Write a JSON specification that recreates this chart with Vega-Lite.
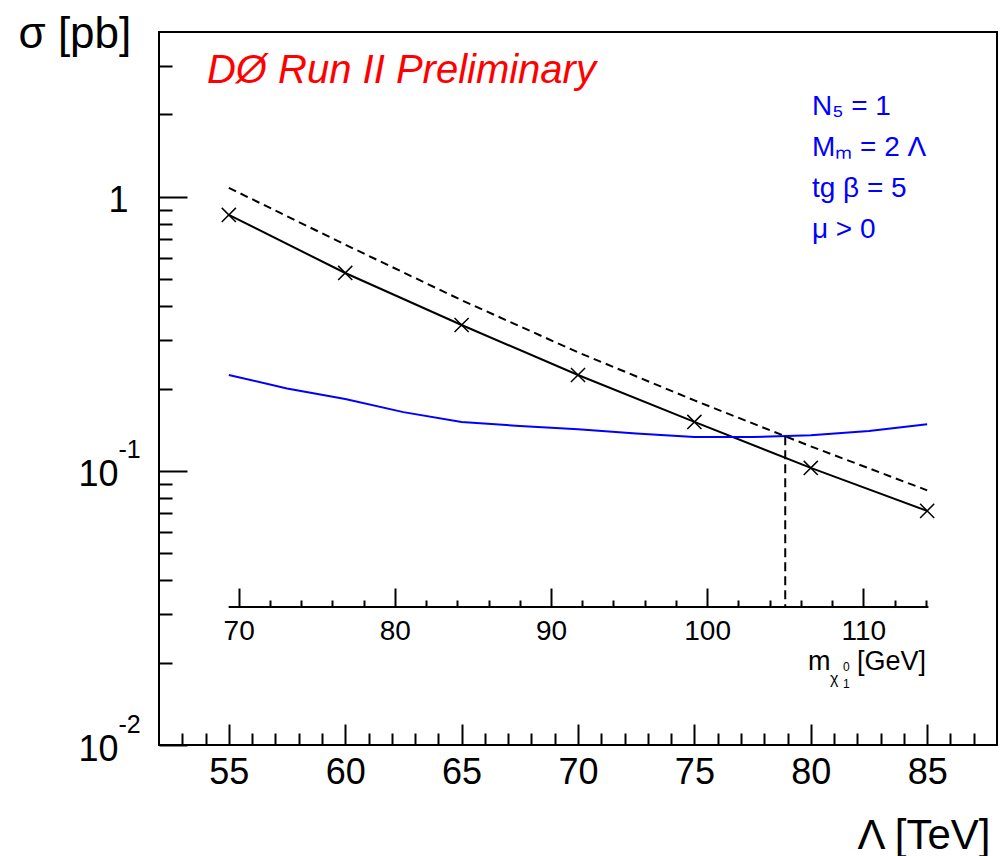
{
  "$schema": "https://vega.github.io/schema/vega-lite/v6.json",
  "width": 838,
  "height": 713,
  "autosize": "none",
  "padding": {"left": 159, "top": 32, "right": 9, "bottom": 111},
  "background": "white",
  "config": {
    "view": {"stroke": "black", "strokeWidth": 2},
    "axis": {
      "grid": false,
      "domain": false,
      "tickColor": "black",
      "tickWidth": 2,
      "labelColor": "black",
      "titleColor": "black",
      "labelFont": "Liberation Sans, Arial, sans-serif",
      "titleFont": "Liberation Sans, Arial, sans-serif",
      "titleFontWeight": "normal",
      "labelOverlap": false,
      "labelFlush": false,
      "labelBound": false
    },
    "text": {"font": "Liberation Sans, Arial, sans-serif"}
  },
  "datasets": {
    "curves": [
      {"curve": "theory", "Lambda_TeV": 55, "sigma_pb": 0.86},
      {"curve": "theory", "Lambda_TeV": 60, "sigma_pb": 0.528},
      {"curve": "theory", "Lambda_TeV": 65, "sigma_pb": 0.341},
      {"curve": "theory", "Lambda_TeV": 70, "sigma_pb": 0.224},
      {"curve": "theory", "Lambda_TeV": 75, "sigma_pb": 0.151},
      {"curve": "theory", "Lambda_TeV": 80, "sigma_pb": 0.1026},
      {"curve": "theory", "Lambda_TeV": 85, "sigma_pb": 0.0715},
      {"curve": "theory_upper", "Lambda_TeV": 55, "sigma_pb": 1.08},
      {"curve": "theory_upper", "Lambda_TeV": 60, "sigma_pb": 0.67},
      {"curve": "theory_upper", "Lambda_TeV": 65, "sigma_pb": 0.42},
      {"curve": "theory_upper", "Lambda_TeV": 70, "sigma_pb": 0.271},
      {"curve": "theory_upper", "Lambda_TeV": 75, "sigma_pb": 0.181},
      {"curve": "theory_upper", "Lambda_TeV": 80, "sigma_pb": 0.123},
      {"curve": "theory_upper", "Lambda_TeV": 85, "sigma_pb": 0.085},
      {"curve": "limit", "Lambda_TeV": 55, "sigma_pb": 0.224},
      {"curve": "limit", "Lambda_TeV": 57.5, "sigma_pb": 0.2},
      {"curve": "limit", "Lambda_TeV": 60, "sigma_pb": 0.183},
      {"curve": "limit", "Lambda_TeV": 62.5, "sigma_pb": 0.164},
      {"curve": "limit", "Lambda_TeV": 65, "sigma_pb": 0.151},
      {"curve": "limit", "Lambda_TeV": 67.5, "sigma_pb": 0.146},
      {"curve": "limit", "Lambda_TeV": 70, "sigma_pb": 0.142},
      {"curve": "limit", "Lambda_TeV": 72.5, "sigma_pb": 0.137},
      {"curve": "limit", "Lambda_TeV": 75, "sigma_pb": 0.133},
      {"curve": "limit", "Lambda_TeV": 77.5, "sigma_pb": 0.133},
      {"curve": "limit", "Lambda_TeV": 80, "sigma_pb": 0.135},
      {"curve": "limit", "Lambda_TeV": 82.5, "sigma_pb": 0.14},
      {"curve": "limit", "Lambda_TeV": 85, "sigma_pb": 0.148}
    ],
    "neutralino_limit": [
      {"axis_from_GeV": 69.36, "axis_to_GeV": 114.17, "limit_GeV": 105, "limit_sigma_pb": 0.134, "axis_sigma_pb": 0.0319}
    ]
  },
  "layer": [
    {
      "data": {"name": "curves"},
      "transform": [{"filter": "datum.curve === 'theory'"}],
      "mark": {"type": "line", "color": "black", "strokeWidth": 2},
      "encoding": {
        "x": {
          "field": "Lambda_TeV",
          "type": "quantitative",
          "scale": {"domain": [52, 88], "nice": false, "zero": false},
          "axis": {
            "orient": "bottom",
            "values": [53, 54, 55, 56, 57, 58, 59, 60, 61, 62, 63, 64, 65, 66, 67, 68, 69, 70, 71, 72, 73, 74, 75, 76, 77, 78, 79, 80, 81, 82, 83, 84, 85, 86, 87],
            "tickSize": {"condition": {"test": "datum.value % 5 === 0", "value": -21}, "value": -12},
            "labelExpr": "datum.value % 5 === 0 ? datum.label : ''",
            "labelPadding": 31,
            "labelFontSize": 36,
            "labelBaseline": "top",
            "title": "Λ [TeV]",
            "titleFontSize": 42,
            "titleAnchor": "end",
            "titleAlign": "right",
            "titleBaseline": "alphabetic",
            "titleX": 831,
            "titleY": 103
          }
        },
        "y": {
          "field": "sigma_pb",
          "type": "quantitative",
          "scale": {"type": "log", "domain": [0.01, 4], "nice": false},
          "axis": {
            "orient": "left",
            "values": [0.01, 0.02, 0.03, 0.04, 0.05, 0.06, 0.07, 0.08, 0.09, 0.1, 0.2, 0.3, 0.4, 0.5, 0.6, 0.7, 0.8, 0.9, 1, 2, 3],
            "tickSize": {"condition": {"test": "datum.value == 1 || datum.value == 0.1 || datum.value == 0.01", "value": -28}, "value": -13},
            "labelExpr": "datum.value == 1 ? '1' : (datum.value == 0.1 || datum.value == 0.01) ? '10' : ''",
            "labelPadding": {"condition": {"test": "datum.value == 1", "value": 59}, "value": 69},
            "labelFontSize": 36,
            "labelAlign": "right",
            "labelBaseline": "middle",
            "labelOffset": 4,
            "title": "σ [pb]",
            "titleAngle": 0,
            "titleAlign": "left",
            "titleBaseline": "alphabetic",
            "titleX": -141,
            "titleY": 15,
            "titleFontSize": 44
          }
        }
      }
    },
    {
      "data": {"name": "curves"},
      "transform": [{"filter": "datum.curve === 'theory'"}],
      "mark": {"type": "point", "shape": "M-1,-1L1,1M-1,1L1,-1", "size": 200, "filled": false, "stroke": "black", "strokeWidth": 1.5, "opacity": 1},
      "encoding": {
        "x": {"field": "Lambda_TeV", "type": "quantitative", "scale": {"domain": [52, 88], "nice": false, "zero": false}, "axis": null},
        "y": {"field": "sigma_pb", "type": "quantitative", "axis": null}
      }
    },
    {
      "data": {"name": "curves"},
      "transform": [{"filter": "datum.curve === 'theory_upper'"}],
      "mark": {"type": "line", "color": "black", "strokeWidth": 2, "strokeDash": [8, 5]},
      "encoding": {
        "x": {"field": "Lambda_TeV", "type": "quantitative", "scale": {"domain": [52, 88], "nice": false, "zero": false}, "axis": null},
        "y": {"field": "sigma_pb", "type": "quantitative", "axis": null}
      }
    },
    {
      "data": {"name": "curves"},
      "transform": [{"filter": "datum.curve === 'limit'"}],
      "mark": {"type": "line", "color": "#0000ff", "strokeWidth": 2},
      "encoding": {
        "x": {"field": "Lambda_TeV", "type": "quantitative", "scale": {"domain": [52, 88], "nice": false, "zero": false}, "axis": null},
        "y": {
          "field": "sigma_pb",
          "type": "quantitative",
          "axis": {
            "orient": "left",
            "values": [0.1, 0.01],
            "ticks": false,
            "labelExpr": "datum.value == 0.1 ? '-1' : '-2'",
            "labelAlign": "left",
            "labelBaseline": "middle",
            "labelPadding": 41,
            "labelOffset": -21,
            "labelFontSize": 25,
            "title": null
          }
        }
      }
    },
    {
      "data": {"values": [{"label": "DØ Run II Preliminary"}]},
      "mark": {"type": "text", "align": "left", "baseline": "alphabetic", "fontSize": 40, "fontStyle": "italic", "color": "#ff0000"},
      "encoding": {
        "x": {"datum": 54.06, "type": "quantitative", "scale": {"domain": [52, 88], "nice": false, "zero": false}, "axis": null},
        "y": {"datum": 2.606, "type": "quantitative", "axis": null},
        "text": {"field": "label"}
      }
    },
    {
      "data": {"values": [{"label": "N₅ = 1\nMₘ = 2 Λ\ntg β = 5\nμ > 0"}]},
      "mark": {"type": "text", "align": "left", "baseline": "alphabetic", "fontSize": 28, "color": "#0000ff", "lineBreak": "\n", "lineHeight": 41},
      "encoding": {
        "x": {"datum": 80.05, "type": "quantitative", "scale": {"domain": [52, 88], "nice": false, "zero": false}, "axis": null},
        "y": {"datum": 1.992, "type": "quantitative", "axis": null},
        "text": {"field": "label"}
      }
    },
    {
      "data": {"name": "neutralino_limit"},
      "mark": {"type": "rule", "color": "black", "strokeWidth": 2},
      "encoding": {
        "x": {
          "field": "axis_from_GeV",
          "type": "quantitative",
          "scale": {"domain": [64.9, 118.56], "nice": false, "zero": false},
          "axis": {
            "orient": "bottom",
            "offset": -138,
            "values": [70, 72, 74, 76, 78, 80, 82, 84, 86, 88, 90, 92, 94, 96, 98, 100, 102, 104, 106, 108, 110, 112, 114],
            "tickSize": {"condition": {"test": "datum.value % 10 === 0", "value": -19}, "value": -7},
            "labelExpr": "datum.value % 10 === 0 ? datum.label : ''",
            "labelPadding": 29,
            "labelFontSize": 28,
            "labelBaseline": "top",
            "title": null
          }
        },
        "x2": {"field": "axis_to_GeV"},
        "y": {"field": "axis_sigma_pb", "type": "quantitative", "axis": null}
      }
    },
    {
      "data": {"name": "neutralino_limit"},
      "mark": {"type": "rule", "color": "black", "strokeWidth": 2, "strokeDash": [9, 5]},
      "encoding": {
        "x": {"field": "limit_GeV", "type": "quantitative", "scale": {"domain": [64.9, 118.56], "nice": false, "zero": false}, "axis": null},
        "y": {"field": "limit_sigma_pb", "type": "quantitative", "axis": null},
        "y2": {"field": "axis_sigma_pb"}
      }
    },
    {
      "data": {"values": [{"label": "m"}]},
      "mark": {"type": "text", "align": "left", "baseline": "alphabetic", "fontSize": 27},
      "encoding": {
        "x": {"datum": 106.46, "type": "quantitative", "scale": {"domain": [64.9, 118.56], "nice": false, "zero": false}, "axis": null},
        "y": {"datum": 0.01878, "type": "quantitative", "axis": null},
        "text": {"field": "label"}
      }
    },
    {
      "data": {"values": [{"label": "χ"}]},
      "mark": {"type": "text", "align": "left", "baseline": "alphabetic", "fontSize": 16, "dx": 22, "dy": 14},
      "encoding": {
        "x": {"datum": 106.46, "type": "quantitative", "scale": {"domain": [64.9, 118.56], "nice": false, "zero": false}, "axis": null},
        "y": {"datum": 0.01878, "type": "quantitative", "axis": null},
        "text": {"field": "label"}
      }
    },
    {
      "data": {"values": [{"label": "0"}]},
      "mark": {"type": "text", "align": "left", "baseline": "alphabetic", "fontSize": 12, "dx": 35, "dy": 1},
      "encoding": {
        "x": {"datum": 106.46, "type": "quantitative", "scale": {"domain": [64.9, 118.56], "nice": false, "zero": false}, "axis": null},
        "y": {"datum": 0.01878, "type": "quantitative", "axis": null},
        "text": {"field": "label"}
      }
    },
    {
      "data": {"values": [{"label": "1"}]},
      "mark": {"type": "text", "align": "left", "baseline": "alphabetic", "fontSize": 12, "dx": 35, "dy": 18},
      "encoding": {
        "x": {"datum": 106.46, "type": "quantitative", "scale": {"domain": [64.9, 118.56], "nice": false, "zero": false}, "axis": null},
        "y": {"datum": 0.01878, "type": "quantitative", "axis": null},
        "text": {"field": "label"}
      }
    },
    {
      "data": {"values": [{"label": "[GeV]"}]},
      "mark": {"type": "text", "align": "left", "baseline": "alphabetic", "fontSize": 27, "dx": 49},
      "encoding": {
        "x": {"datum": 106.46, "type": "quantitative", "scale": {"domain": [64.9, 118.56], "nice": false, "zero": false}, "axis": null},
        "y": {"datum": 0.01878, "type": "quantitative", "axis": null},
        "text": {"field": "label"}
      }
    }
  ],
  "resolve": {"scale": {"x": "independent"}, "axis": {"x": "independent", "y": "independent"}}
}
